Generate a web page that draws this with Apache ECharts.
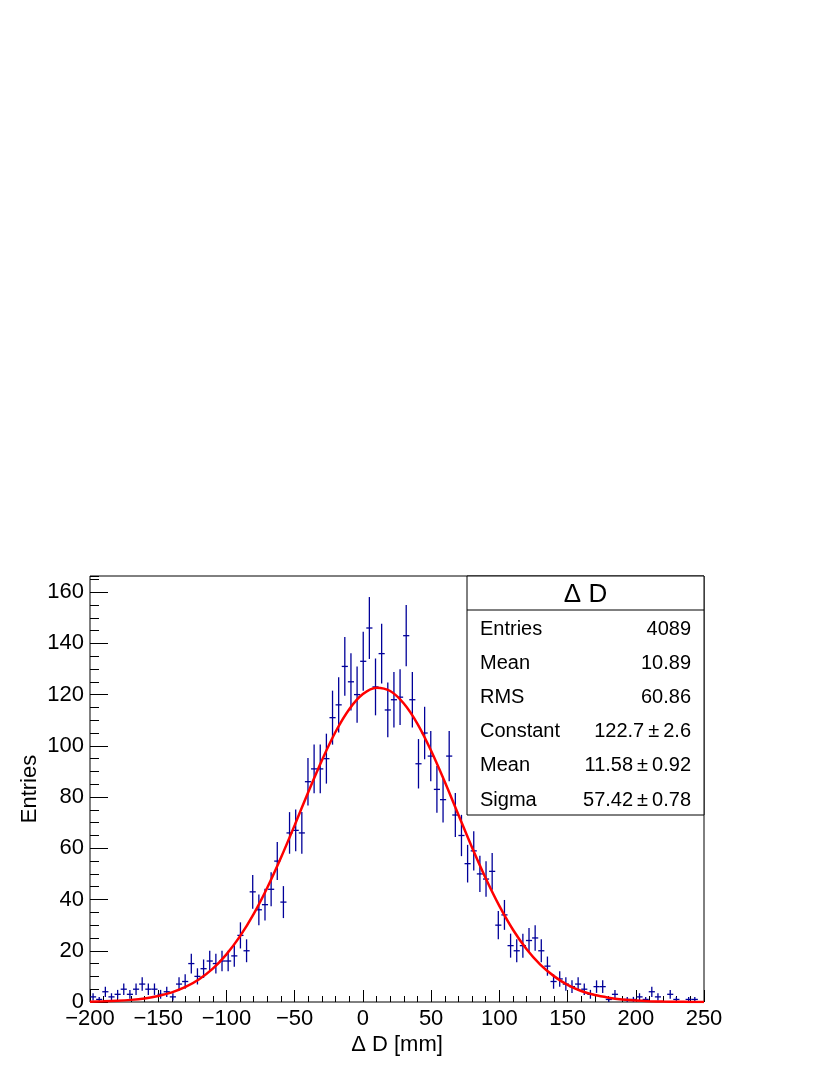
<!DOCTYPE html>
<html>
<head>
<meta charset="utf-8">
<script src="https://cdn.jsdelivr.net/npm/echarts@6/dist/echarts.min.js"></script>
<style>
html,body{margin:0;padding:0;background:#fff;}
#chart{width:830px;height:1075px;}
</style>
</head>
<body>
<div id="chart"></div>
<script>
// ---- data ----
const histLow = -200;
const histWidth = 4.5; // bin width (100 bins from -200 to 250)
const counts = [
  2, 1, 4, 2, 3, 5, 3, 5, 7, 5,
  5, 3, 4, 2, 7, 8, 15, 10, 13, 16,
  15, 16, 16, 18, 26, 20, 43, 36, 38, 44,
  55, 39, 66, 67, 66, 86, 91, 91, 95, 111,
  116, 131, 125, 120, 133, 146, 123, 136, 114, 118,
  119, 143, 118, 93, 105, 96, 83, 79, 96, 73,
  65, 54, 59, 50, 48, 51, 30, 34, 22, 20,
  22, 24, 25, 20, 14, 8, 9, 7, 6, 7,
  5, 3, 6, 6, 1, 3, 0, 1, 1, 2,
  1, 4, 2, 0, 3, 1, 0, 1, 1, 0
];
const fitX = [-200,-190,-180,-170,-160,-150,-140,-130,-120,-110,-100,-90,-80,-70,-60,-50,-40,-30,-20,-10,
  0,10,20,30,40,50,60,70,80,90,100,110,120,130,140,150,160,170,180,190,200,210,220,230,240,250];
const fitY = [0.14,0.26,0.47,0.83,1.41,2.34,3.76,5.87,8.88,13.0,18.6,25.7,34.4,44.7,56.4,69.0,82.0,94.4,105.5,114.3,
  120.2,122.7,121.4,116.5,108.6,98.1,86.0,73.1,60.3,48.3,37.5,28.2,20.6,14.6,10.1,6.7,4.3,2.7,1.7,1.0,0.56,0.31,0.17,0.09,0.04,0.02];
const xTicks = [-200,-150,-100,-50,0,50,100,150,200,250];
const yTicks = [0,20,40,60,80,100,120,140,160];
const statTitle = '\u0394 D';
const statLabels = ['Entries','Mean','RMS','Constant','Mean','Sigma'];
const statValues = ['4089','10.89','60.86','122.7\u2009\u00b1\u20092.6','11.58\u2009\u00b1\u20090.92','57.42\u2009\u00b1\u20090.78'];
const xTitle = '\u0394 D [mm]';
const yTitle = 'Entries';

// ---- build ----
const histData = [];
counts.forEach((n, i) => {
  if (n > 0) histData.push([histLow + histWidth * (i + 0.5), n, Math.sqrt(n)]);
});
const fitData = fitX.map((x, i) => [x, fitY[i]]);

const FONT = 'Liberation Sans, Arial, sans-serif';
const BLUE = '#000099';
const chart = echarts.init(document.getElementById('chart'), null, {renderer: 'canvas'});

const gridL = 90, gridR = 126, gridT = 576, gridB = 73;
const boxL = 467, boxT = 576, boxW = 237, boxH = 239;
const rowY0 = 629, rowDy = 34.2;

const graphics = [
  {type: 'rect', shape: {x: boxL, y: boxT, width: boxW, height: boxH},
   style: {fill: '#fff', stroke: '#000', lineWidth: 1}, z: 100},
  {type: 'line', shape: {x1: boxL, y1: 610, x2: boxL + boxW, y2: 610},
   style: {stroke: '#000', lineWidth: 1}, z: 101},
  {type: 'text', x: boxL + boxW / 2, y: 595, z: 101,
   style: {text: statTitle, font: '26px ' + FONT, fill: '#000', textAlign: 'center', textVerticalAlign: 'middle'}}
];
statLabels.forEach((lab, i) => {
  graphics.push({type: 'text', x: 480, y: rowY0 + i * rowDy, z: 101,
    style: {text: lab, font: '20px ' + FONT, fill: '#000', textAlign: 'left', textVerticalAlign: 'middle'}});
  graphics.push({type: 'text', x: 691, y: rowY0 + i * rowDy, z: 101,
    style: {text: statValues[i], font: '20px ' + FONT, fill: '#000', textAlign: 'right', textVerticalAlign: 'middle'}});
});

const minus = v => String(v).replace('-', '\u2212');

const option = {
  backgroundColor: '#fff',
  animation: false,
  grid: {left: gridL, right: gridR, top: gridT, bottom: gridB, show: true,
         borderColor: '#000', borderWidth: 1, backgroundColor: 'transparent'},
  xAxis: [
    {type: 'value', min: -200, max: 250, interval: 50, position: 'bottom',
     axisLine: {show: false, onZero: false}, splitLine: {show: false},
     axisTick: {show: true, inside: true, length: 12, lineStyle: {color: '#000', width: 1}},
     axisLabel: {color: '#000', fontFamily: FONT, fontSize: 22, margin: 6, formatter: minus,
                 showMinLabel: true, showMaxLabel: true},
     name: xTitle, nameLocation: 'middle', nameGap: 32, nameMoveOverlap: false,
     nameTextStyle: {color: '#000', fontFamily: FONT, fontSize: 22}},
    {type: 'value', min: -200, max: 250, interval: 10, position: 'bottom',
     axisLine: {show: false, onZero: false}, splitLine: {show: false}, axisLabel: {show: false},
     axisTick: {show: true, inside: true, length: 6, lineStyle: {color: '#000', width: 1}}}
  ],
  yAxis: [
    {type: 'value', min: 0, max: 166.3, interval: 20, position: 'left',
     axisLine: {show: false, onZero: false}, splitLine: {show: false},
     axisTick: {show: true, inside: true, length: 18, lineStyle: {color: '#000', width: 1}},
     axisLabel: {color: '#000', fontFamily: FONT, fontSize: 22, margin: 6, showMaxLabel: false},
     name: yTitle, nameLocation: 'middle', nameGap: 49, nameMoveOverlap: false,
     nameTextStyle: {color: '#000', fontFamily: FONT, fontSize: 22}},
    {type: 'value', min: 0, max: 166.3, interval: 5, position: 'left',
     axisLine: {show: false, onZero: false}, splitLine: {show: false}, axisLabel: {show: false},
     axisTick: {show: true, inside: true, length: 9, lineStyle: {color: '#000', width: 1}}}
  ],
  series: [
    {type: 'custom', xAxisIndex: 0, yAxisIndex: 0, clip: true, data: histData, z: 2,
     renderItem: function (params, api) {
       const xc = api.value(0), n = api.value(1), e = api.value(2);
       const c = api.coord([xc, n]);
       const t = api.coord([xc, n + e]);
       const b = api.coord([xc, Math.max(0, n - e)]);
       const l = api.coord([xc - histWidth / 2, n]);
       const r = api.coord([xc + histWidth / 2, n]);
       return {type: 'group', children: [
         {type: 'line', shape: {x1: c[0], y1: t[1], x2: c[0], y2: b[1]}, style: {stroke: BLUE, lineWidth: 1.3}},
         {type: 'line', shape: {x1: l[0], y1: c[1], x2: r[0], y2: c[1]}, style: {stroke: BLUE, lineWidth: 1.3}}
       ]};
     }},
    {type: 'line', xAxisIndex: 0, yAxisIndex: 0, data: fitData, smooth: 0.3, showSymbol: false,
     symbol: 'none', lineStyle: {color: '#ff0000', width: 2.5}, z: 3, clip: true}
  ],
  graphic: graphics
};
chart.setOption(option);
</script>
</body>
</html>
